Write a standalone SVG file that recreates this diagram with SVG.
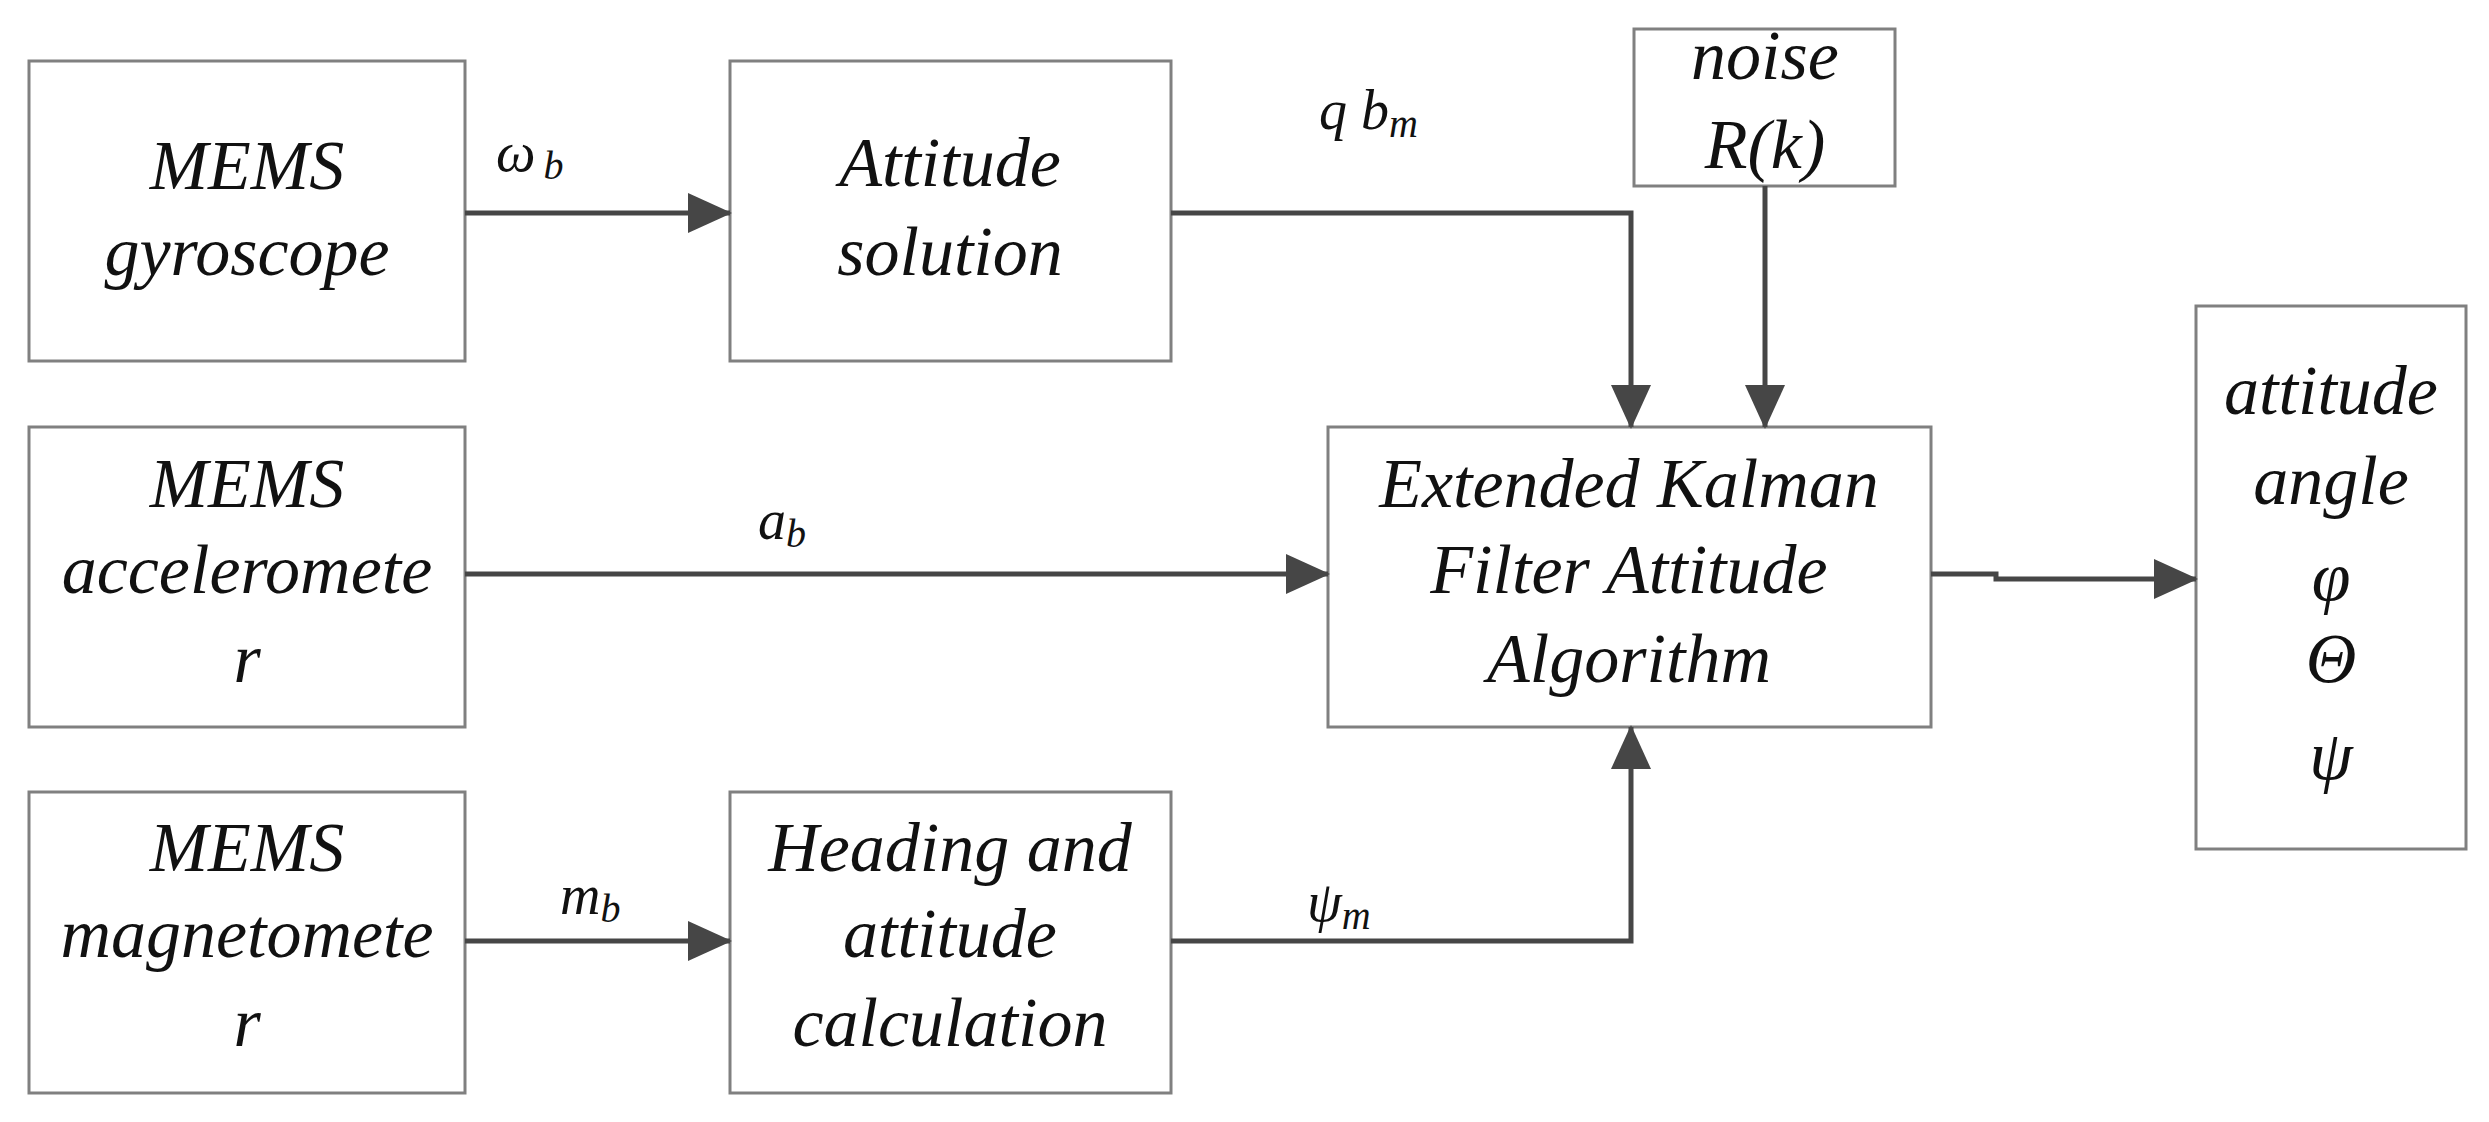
<svg xmlns="http://www.w3.org/2000/svg" width="2489" height="1122" viewBox="0 0 2489 1122">
<style>
.box{fill:#fff;stroke:#808080;stroke-width:3}
.t{font-family:"Liberation Serif",serif;font-style:italic;font-size:70px;fill:#111;text-anchor:middle}
.l{font-family:"Liberation Serif",serif;font-style:italic;font-size:56px;fill:#111}
.c{fill:none;stroke:#464646;stroke-width:5}
</style>
<defs><marker id="a" markerUnits="userSpaceOnUse" markerWidth="44" markerHeight="40" refX="42" refY="20" orient="auto"><path d="M0,0L44,20L0,40Z" fill="#464646"/></marker></defs>
<rect width="2489" height="1122" fill="#fff"/>
<g id="gyro"><rect class="box" x="29" y="61" width="436" height="300"/><text class="t" x="247" y="189">MEMS</text><text class="t" x="247" y="275">gyroscope</text></g>
<g id="attsol"><rect class="box" x="730" y="61" width="441" height="300"/><text class="t" x="950" y="186">Attitude</text><text class="t" x="950" y="275">solution</text></g>
<g id="accel"><rect class="box" x="29" y="427" width="436" height="300"/><text class="t" x="247" y="507">MEMS</text><text class="t" x="247" y="593">acceleromete</text><text class="t" x="247" y="682">r</text></g>
<g id="magnet"><rect class="box" x="29" y="792" width="436" height="301"/><text class="t" x="247" y="871">MEMS</text><text class="t" x="247" y="957">magnetomete</text><text class="t" x="247" y="1046">r</text></g>
<g id="heading"><rect class="box" x="730" y="792" width="441" height="301"/><text class="t" x="950" y="871">Heading and</text><text class="t" x="950" y="957">attitude</text><text class="t" x="950" y="1046">calculation</text></g>
<g id="ekf"><rect class="box" x="1328" y="427" width="603" height="300"/><text class="t" x="1629" y="507">Extended Kalman</text><text class="t" x="1629" y="593">Filter Attitude</text><text class="t" x="1629" y="682">Algorithm</text></g>
<g id="noise"><rect class="box" x="1634" y="29" width="261" height="157"/><text class="t" x="1765" y="79">noise</text><text class="t" x="1765" y="168">R(k)</text></g>
<g id="out"><rect class="box" x="2196" y="306" width="270" height="543"/><text class="t" x="2331" y="414">attitude</text><text class="t" x="2331" y="504">angle</text><text class="t" x="2331" y="600">φ</text><text class="t" x="2331" y="682">Θ</text><text class="t" x="2331" y="779">ψ</text></g>
<g id="connectors">
<path class="c" d="M465,213H730" marker-end="url(#a)"/>
<path class="c" d="M1171,213H1631V427" marker-end="url(#a)"/>
<path class="c" d="M1765,186V427" marker-end="url(#a)"/>
<path class="c" d="M465,574H1328" marker-end="url(#a)"/>
<path class="c" d="M465,941H730" marker-end="url(#a)"/>
<path class="c" d="M1171,941H1631V727" marker-end="url(#a)"/>
<path class="c" d="M1931,574H1996V579H2196" marker-end="url(#a)"/>
</g>
<g id="labels">
<text class="l" x="496" y="171">ω<tspan font-size="40" dx="8" dy="8">b</tspan></text>
<text class="l" x="758" y="539">a<tspan font-size="40" dy="8">b</tspan></text>
<text class="l" x="560" y="914">m<tspan font-size="40" dy="8">b</tspan></text>
<text class="l" x="1319" y="129">q b<tspan font-size="40" dy="8">m</tspan></text>
<text class="l" x="1307" y="921">ψ<tspan font-size="40" dy="8">m</tspan></text>
</g>
</svg>
